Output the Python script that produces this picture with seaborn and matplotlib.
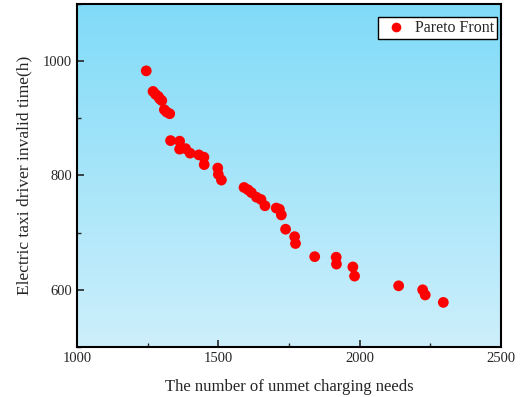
import numpy as np
import pandas as pd
import matplotlib
matplotlib.use("Agg")
import matplotlib.pyplot as plt
from matplotlib.colors import LinearSegmentedColormap
from matplotlib.ticker import MultipleLocator
import seaborn as sns

unmet_needs = [1245, 1269, 1278, 1288, 1293, 1300, 1309, 1317, 1328, 1331,
               1363, 1363, 1384, 1400, 1431, 1449, 1450, 1498, 1500, 1511,
               1591, 1605, 1617, 1635, 1651, 1665, 1705, 1716, 1723, 1738,
               1770, 1773, 1841, 1917, 1918, 1976, 1982, 2138, 2223, 2232, 2296]
invalid_time = [983, 947, 942, 938, 934, 931, 915, 911, 908, 861,
                860, 846, 847, 839, 836, 832, 819, 813, 802, 792,
                779, 775, 770, 762, 758, 747, 743, 741, 731, 706,
                693, 681, 658, 657, 645, 640, 624, 607, 600, 591, 578]
x_ticks = [1000, 1500, 2000, 2500]
y_ticks = [600, 800, 1000]

df = pd.DataFrame({"x": unmet_needs, "y": invalid_time, "s": "Pareto Front"})

sns.set_style("ticks")
plt.rcParams['font.family'] = ['Liberation Serif', 'DejaVu Serif']

fig = plt.figure(figsize=(5.26, 3.97), dpi=100)
ax = fig.add_axes([0.1464, 0.126, 0.806, 0.864])

cmap = LinearSegmentedColormap.from_list("bg", ["#cdeffb", "#80dbf8"])
grad = np.linspace(0, 1, 256).reshape(-1, 1)
ax.imshow(grad, cmap=cmap, aspect="auto", extent=[0, 1, 0, 1],
          transform=ax.transAxes, origin="lower", zorder=0)

sns.scatterplot(data=df, x="x", y="y", hue="s", palette=["#ff0000"],
                s=60, edgecolor="none", ax=ax, zorder=3)

ax.set_xlim(1000, 2500)
ax.set_ylim(500, 1100)
ax.set_xticks(x_ticks)
ax.set_yticks(y_ticks)
ax.xaxis.set_minor_locator(MultipleLocator(250))
ax.yaxis.set_minor_locator(MultipleLocator(100))
ax.tick_params(which="major", direction="in", length=5, width=1.2, labelsize=10.5,
               top=False, right=False)
ax.tick_params(which="minor", direction="in", length=3, width=1.0, top=False, right=False)
for sp in ax.spines.values():
    sp.set_linewidth(1.5)
    sp.set_color("black")

ax.set_xlabel("The number of unmet charging needs", fontsize=12, labelpad=10)
ax.set_ylabel("Electric taxi driver invalid time(h)", fontsize=12.5, labelpad=8)

leg = ax.legend(loc="upper right", bbox_to_anchor=(0.991, 0.962), fontsize=11.5,
                frameon=True, fancybox=False, edgecolor="black", borderpad=0.2,
                handletextpad=0.3, handlelength=1.8, borderaxespad=0.0,
                markerscale=0.9)
leg.get_frame().set_linewidth(1.0)
leg.get_frame().set_facecolor("white")
leg.get_frame().set_alpha(1)

fig.savefig("out.png", dpi=100)
